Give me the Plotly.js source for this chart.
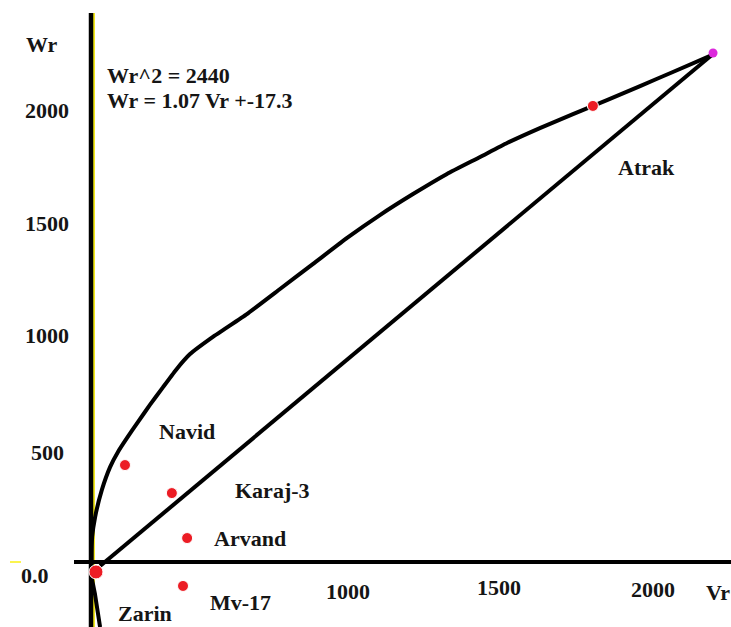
<!DOCTYPE html>
<html>
<head>
<meta charset="utf-8">
<script src="https://cdn.plot.ly/plotly-3.0.1.min.js"></script>
<style>
  html, body { margin: 0; padding: 0; background: #fff; }
  #chart { width: 731px; height: 627px; }
</style>
</head>
<body>
<div id="chart"></div>
<script>
// ---- Data ----
const genotypes = ['Atrak', 'Navid', 'Karaj-3', 'Arvand', 'Mv-17', 'Zarin'];
const vrValues  = [1713, 116, 276, 328, 314, 17];
const wrValues  = [2018, 429, 305, 106, -106, -44];

// limiting parabola (hand-drawn)
const parabolaVr = [31, 14, 3, 2, 4, 14, 37, 65, 92, 123, 160, 201, 246, 290, 338, 416, 532, 645, 758, 874, 986, 1099, 1215, 1328, 1420, 1532, 1645, 1761, 1874, 1986, 2119];
const parabolaWr = [-288, -146, -71, 9, 111, 199, 319, 420, 487, 549, 619, 695, 774, 850, 920, 996, 1097, 1208, 1319, 1434, 1535, 1628, 1717, 1792, 1854, 1920, 1982, 2044, 2106, 2168, 2243];

// regression line end points
const regressionVr = [31, 2123];
const regressionWr = [-18, 2248];

// top point of the regression line
const topVr = [2123];
const topWr = [2252];

const yTickVals = [0, 500, 1000, 1500, 2000];
const yTickText = ['0.0', '500', '1000', '1500', '2000'];
const xTickVals = [1000, 1500, 2000];
const xTickText = ['1000', '1500', '2000'];
const equationLines = ['Wr^2 = 2440', 'Wr = 1.07 Vr +-17.3'];
const axisTitles = { x: 'Vr', y: 'Wr' };

// ---- Styles / placement ----
const FONT = { family: "'Liberation Serif', 'Times New Roman', serif", size: 22, color: '#151515', weight: 'bold' };
const labelShift = {
  'Atrak':   [54, -62],
  'Navid':   [62, 34],
  'Karaj-3': [101, 3],
  'Arvand':  [63, 0],
  'Mv-17':   [57, -17],
  'Zarin':   [49, -42]
};
const dotSize = { 'Zarin': 14 };
const yTickShift = { 0: [-56, -13], 500: [-44, -3], 1000: [-44, 1], 1500: [-44, 0], 2000: [-44, 0] };
const xTickShift = { 1000: [-36, -29], 1500: [-32, -25], 2000: [-24, -27] };

const XR = [-310.6, 2184.3];
const YR = [-287.6, 2486.7];

const traces = [
  {
    x: parabolaVr, y: parabolaWr, type: 'scatter', mode: 'lines',
    line: { color: '#000', width: 4, shape: 'spline', smoothing: 0.4 },
    hoverinfo: 'skip'
  },
  {
    x: regressionVr, y: regressionWr, type: 'scatter', mode: 'lines',
    line: { color: '#000', width: 4 },
    hoverinfo: 'skip'
  },
  {
    x: vrValues, y: wrValues, type: 'scatter', mode: 'markers',
    marker: { color: 'rgb(236,28,36)', opacity: 1, size: genotypes.map(g => dotSize[g] || 11) },
    text: genotypes
  },
  {
    x: topVr, y: topWr, type: 'scatter', mode: 'markers',
    marker: { color: 'rgb(220,40,220)', opacity: 1, size: 9 }
  }
];

const annotations = [];
genotypes.forEach((g, i) => {
  annotations.push({
    x: vrValues[i], y: wrValues[i], xref: 'x', yref: 'y',
    text: g, showarrow: false, font: FONT,
    xshift: labelShift[g][0], yshift: labelShift[g][1]
  });
});
yTickVals.forEach((v, i) => {
  annotations.push({
    x: 0, y: v, xref: 'x', yref: 'y', text: yTickText[i], showarrow: false, font: FONT,
    xanchor: 'center', xshift: yTickShift[v][0], yshift: yTickShift[v][1]
  });
});
xTickVals.forEach((v, i) => {
  annotations.push({
    x: v, y: 0, xref: 'x', yref: 'y', text: xTickText[i], showarrow: false, font: FONT,
    xshift: xTickShift[v][0], yshift: xTickShift[v][1]
  });
});
annotations.push({ x: 0, y: 0, xref: 'x', yref: 'y', text: axisTitles.y, showarrow: false, font: FONT, xshift: -49, yshift: 518 });
annotations.push({ x: XR[1], y: 0, xref: 'x', yref: 'y', text: axisTitles.x, showarrow: false, font: FONT, xshift: -13, yshift: -30 });
equationLines.forEach((t, i) => {
  annotations.push({
    x: 0, y: 0, xref: 'x', yref: 'y', text: t, showarrow: false, font: FONT,
    xanchor: 'left', xshift: 14, yshift: 487 - i * 25
  });
});

const shapes = [
  // thin yellow line beside the vertical axis
  { type: 'line', xref: 'x', yref: 'paper', x0: 10, x1: 10, y0: 0, y1: 1 - 13 / 627, line: { color: 'rgb(240,230,20)', width: 2 }, layer: 'below' },
  // vertical axis
  { type: 'line', xref: 'x', yref: 'paper', x0: 0, x1: 0, y0: 0, y1: 1 - 13 / 627, line: { color: '#000', width: 4.5 }, layer: 'below' },
  // horizontal axis
  { type: 'line', xref: 'paper', yref: 'y', x0: 74 / 731, x1: 1, y0: 0, y1: 0, line: { color: '#000', width: 4 }, layer: 'below' },
  // small yellow dash left of 0.0
  { type: 'line', xref: 'paper', yref: 'y', x0: 10 / 731, x1: 21 / 731, y0: 0, y1: 0, line: { color: 'rgb(250,240,20)', width: 1.5 }, layer: 'below' }
];

const layout = {
  width: 731, height: 627,
  margin: { l: 0, r: 0, t: 0, b: 0 },
  paper_bgcolor: '#fff', plot_bgcolor: '#fff',
  showlegend: false,
  xaxis: { range: XR, showgrid: false, zeroline: false, showticklabels: false, ticks: '', showline: false },
  yaxis: { range: YR, showgrid: false, zeroline: false, showticklabels: false, ticks: '', showline: false },
  annotations: annotations,
  shapes: shapes
};

Plotly.newPlot('chart', traces, layout, { displayModeBar: false, staticPlot: true });
</script>
</body>
</html>
